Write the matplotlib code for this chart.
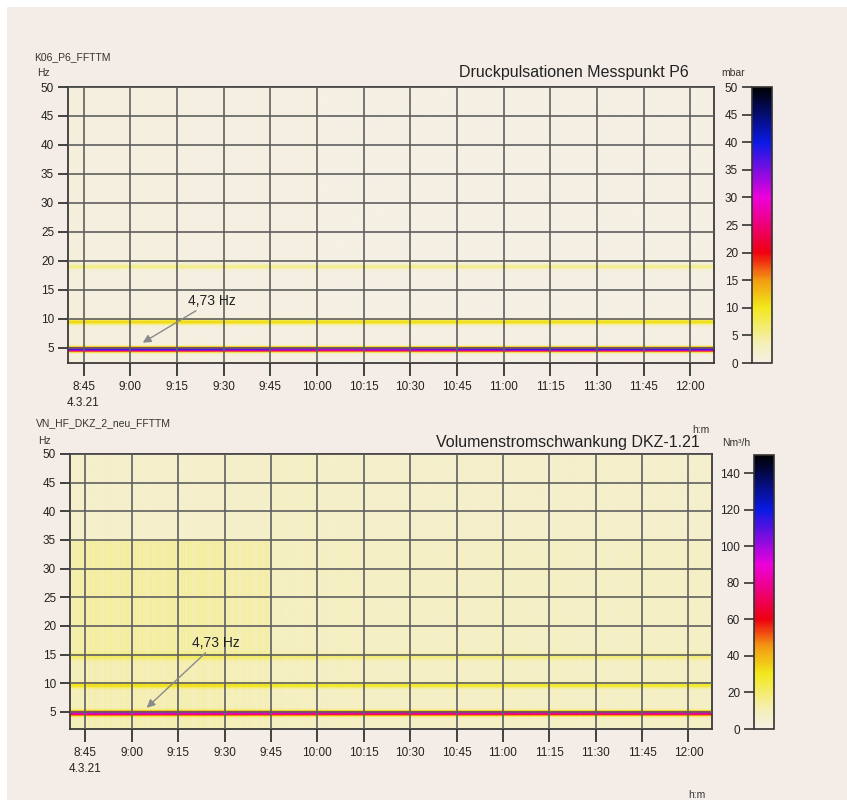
"""
FFT-Spektrogramme: Druckpulsationen P6 und Volumenstromschwankung DKZ-1.21
(Nachbau als statisches Bild mit matplotlib)
"""

import numpy as np
import matplotlib
matplotlib.use("Agg")
import matplotlib.pyplot as plt
from matplotlib.colors import LinearSegmentedColormap
from matplotlib.patches import Rectangle

plt.rcParams["font.family"] = ["Liberation Sans", "DejaVu Sans"]

# ============================================================
#  Daten
# ============================================================

time_labels = ["8:45", "9:00", "9:15", "9:30", "9:45", "10:00", "10:15",
               "10:30", "10:45", "11:00", "11:15", "11:30", "11:45", "12:00"]
date_label = "4.3.21"
freq_ticks = [5, 10, 15, 20, 25, 30, 35, 40, 45, 50]

# oberes Diagramm: Druckpulsationen [mbar]
top_band_hz = [4.73, 9.46, 19.0]
top_band_mbar = [38, 11, 5.5]
top_band_sigma = [0.30, 0.33, 0.30]
# Amplitude der 4,73-Hz-Linie je 15-min-Block (vor 8:45 ... nach 12:00)
top_main_mbar = [37, 38, 38, 38, 37, 35, 34, 35, 36, 37, 38, 38, 38, 38, 38]
top_bg_mbar = [0.6, 0.5, 0.4, 0.35, 0.3, 0.2, 0.15, 0.1, 0.1, 0.1, 0.1, 0.1, 0.1, 0.1, 0.1]
top_cbar_ticks = [0, 5, 10, 15, 20, 25, 30, 35, 40, 45, 50]

# unteres Diagramm: Volumenstromschwankung [Nm³/h]
bot_band_hz = [4.73, 9.6, 14.6]
bot_band_nm3h = [82, 22, 11]
bot_band_sigma = [0.30, 0.32, 0.40]
bot_main_nm3h = [82, 84, 84, 82, 82, 80, 78, 78, 80, 80, 78, 78, 78, 80, 80]
# Rauschpegel je Block und Frequenzbereich (2-15, 15-35, 35-50 Hz)
bot_noise_f_edges = [2, 15, 35, 50]
bot_noise_nm3h = [
    [10, 12.5, 6], [11, 13, 6], [11, 13, 6], [11, 13, 6], [10, 12, 6.5],
    [8.5, 8.5, 7.5], [8, 8, 6.5], [7.5, 7.5, 6], [7.5, 7.5, 6], [7.5, 7.5, 6],
    [7.5, 7.5, 6], [7.5, 7.5, 6], [7.5, 7.5, 6], [7.5, 7.5, 6], [7.5, 7.5, 6],
]
# Streifenmuster (senkrechte Schraffur im Rauschen)
stripe_pattern = [1.0, 0.85, 1.15, 0.92, 1.1, 0.82, 1.18, 0.95, 1.05, 0.88]
bot_cbar_ticks = [0, 20, 40, 60, 80, 100, 120, 140]


# ============================================================
#  Hilfsfunktionen
# ============================================================

def _minutes(label):
    h, m = label.split(":")
    return int(h) * 60 + int(m)


def _px(x, y):
    """Pixelkoordinaten (847x800) -> Figurenkoordinaten."""
    return x / 847, 1 - y / 800


def _box(x0, y0, x1, y1):
    return [x0 / 847, 1 - y1 / 800, (x1 - x0) / 847, (y1 - y0) / 800]


tick_min = [_minutes(s) for s in time_labels]
T0, T1 = 520.0, 727.6
t_grid = np.arange(T0, T1, 0.5)
f_grid = np.arange(2.0, 50.02, 0.05)
block = np.searchsorted(tick_min, t_grid, side="right")   # 0..14

cmap = LinearSegmentedColormap.from_list("fft", [
    (0.00, "#F5F0E4"),
    (0.07, "#F5EFB8"),
    (0.20, "#F2E81C"),
    (0.30, "#F39A12"),
    (0.40, "#EE0010"),
    (0.60, "#EE00DC"),
    (0.80, "#0A1AE6"),
    (1.00, "#000000"),
])


def _spectrum(bands, amps, sigmas, main_amp, bg):
    F = f_grid[:, None]
    Z = np.array(bg, dtype=float) * np.ones_like(F)
    for i, (fc, a, s) in enumerate(zip(bands, amps, sigmas)):
        amp = np.asarray(main_amp)[block] if i == 0 else a
        Z = Z + amp * np.exp(-0.5 * ((F - fc) / s) ** 2)
    return Z


def _style_axes(ax, ylim):
    ax.set_xlim(T0, T1)
    ax.set_ylim(*ylim)
    ax.set_xticks(tick_min)
    ax.set_xticklabels(time_labels)
    ax.set_yticks(freq_ticks)
    ax.set_yticklabels([str(v) for v in freq_ticks])
    ax.grid(True, color="#5f5f5f", lw=1.2)
    ax.set_axisbelow(False)
    ax.tick_params(axis="x", direction="out", length=9, width=1.3,
                   pad=4, labelsize=8.5, colors="#333333", labelcolor="#222222")
    ax.tick_params(axis="y", direction="out", length=7, width=1.3,
                   pad=3, labelsize=8.5, colors="#333333", labelcolor="#222222")
    for sp in ax.spines.values():
        sp.set_color("#3a3a3a")
        sp.set_linewidth(1.3)
    # Datum unter dem ersten Zeitstempel
    ax.annotate(date_label, xy=(tick_min[0], 0), xycoords=("data", "axes fraction"),
                xytext=(0, -40), textcoords="offset pixels",
                ha="center", va="center", fontsize=8.5, color="#222222")


def _colorbar(fig, im, rect, ticks):
    cax = fig.add_axes(rect)
    cb = fig.colorbar(im, cax=cax, ticks=ticks)
    cax.yaxis.set_ticks_position("left")
    cax.yaxis.set_label_position("left")
    cax.tick_params(direction="out", length=7, width=1.2, pad=3,
                    labelsize=8.5, colors="#333333", labelcolor="#222222")
    cb.outline.set_linewidth(1.2)
    cb.outline.set_edgecolor("#333333")
    return cb


# ============================================================
#  Abbildung
# ============================================================

fig = plt.figure(figsize=(8.47, 8.0), dpi=100, facecolor="white")
fig.patches.append(Rectangle((7 / 847, 0), 1, 1 - 7 / 800, transform=fig.transFigure,
                             facecolor="#F4EDE7", edgecolor="none", zorder=-10))

# ---------- oberes Diagramm ----------
ax1 = fig.add_axes(_box(68, 87, 714, 363))
Z1 = _spectrum(top_band_hz, top_band_mbar, top_band_sigma,
               top_main_mbar, np.asarray(top_bg_mbar)[block][None, :])
im1 = ax1.imshow(Z1, origin="lower", aspect="auto", cmap=cmap, vmin=0, vmax=50,
                 extent=[T0, T1, f_grid[0], f_grid[-1]], interpolation="bilinear")
_style_axes(ax1, (2.4, 50))
ax1.annotate("4,73 Hz", xy=(544.0, 5.9), xytext=(558.7, 13.1),
             ha="left", va="center", fontsize=10, color="#222222",
             arrowprops=dict(arrowstyle="-|>", color="#8a8a8a", lw=1.0,
                             shrinkA=0, shrinkB=0, mutation_scale=12))
_colorbar(fig, im1, _box(752, 87, 772, 363), top_cbar_ticks)

fig.text(*_px(34, 57), "K06_P6_FFTTM", fontsize=7.5, ha="left", va="center", color="#333333")
fig.text(*_px(37, 73), "Hz", fontsize=7.5, ha="left", va="center", color="#333333")
fig.text(*_px(689, 73), "Druckpulsationen Messpunkt P6", fontsize=11.5,
         ha="right", va="center", color="#222222")
fig.text(*_px(733, 73), "mbar", fontsize=7.5, ha="center", va="center", color="#333333")
fig.text(*_px(701, 430), "h:m", fontsize=7.5, ha="center", va="center", color="#333333")

# ---------- unteres Diagramm ----------
ax2 = fig.add_axes(_box(70, 454, 712, 729))
noise = np.asarray(bot_noise_nm3h, dtype=float)[block]            # (nt, 3)
f_idx = np.clip(np.searchsorted(bot_noise_f_edges, f_grid, side="right") - 1, 0, 2)
stripes = np.resize(stripe_pattern, t_grid.size)
bg2 = noise[:, f_idx].T * stripes[None, :]
Z2 = _spectrum(bot_band_hz, bot_band_nm3h, bot_band_sigma, bot_main_nm3h, bg2)
im2 = ax2.imshow(Z2, origin="lower", aspect="auto", cmap=cmap, vmin=0, vmax=150,
                 extent=[T0, T1, f_grid[0], f_grid[-1]], interpolation="bilinear")
_style_axes(ax2, (2.0, 50))
ax2.annotate("4,73 Hz", xy=(544.8, 5.7), xytext=(559.5, 17.0),
             ha="left", va="center", fontsize=10, color="#222222",
             arrowprops=dict(arrowstyle="-|>", color="#8a8a8a", lw=1.0,
                             shrinkA=0, shrinkB=0, mutation_scale=12))
_colorbar(fig, im2, _box(754, 455, 774, 729), bot_cbar_ticks)

fig.text(*_px(36, 423), "VN_HF_DKZ_2_neu_FFTTM", fontsize=7.5, ha="left", va="center", color="#333333")
fig.text(*_px(38, 441), "Hz", fontsize=7.5, ha="left", va="center", color="#333333")
fig.text(*_px(700, 442), "Volumenstromschwankung DKZ-1.21", fontsize=11.5,
         ha="right", va="center", color="#222222")
fig.text(*_px(736, 443), "Nm³/h", fontsize=7.5, ha="center", va="center", color="#333333")
fig.text(*_px(697, 795), "h:m", fontsize=7.5, ha="center", va="center", color="#333333")

fig.savefig("out.png", dpi=100, facecolor=fig.get_facecolor())
plt.close(fig)
